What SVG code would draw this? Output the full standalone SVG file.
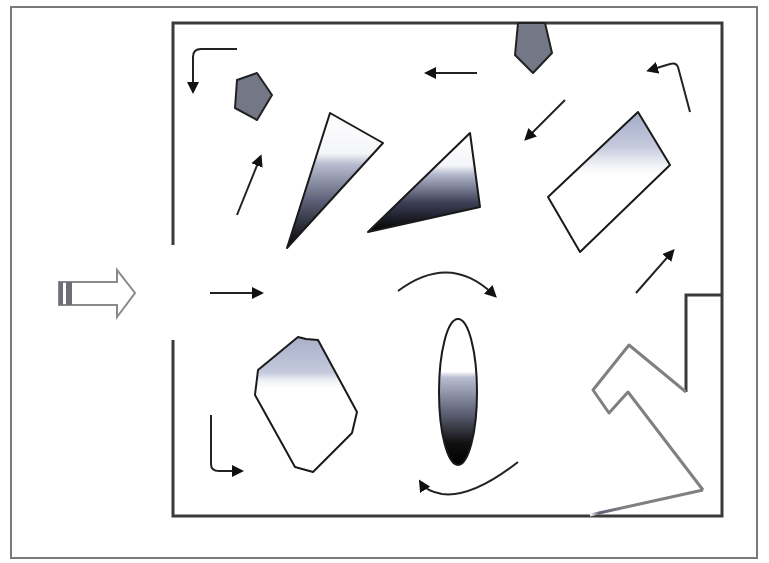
<svg xmlns="http://www.w3.org/2000/svg" width="769" height="563" viewBox="0 0 769 563">
<style>
.wall{fill:none;stroke:#3a3a3a;stroke-width:3}
.frame{fill:none;stroke:#7a7a7a;stroke-width:2}
.arr{fill:none;stroke:#222;stroke-width:2;marker-end:url(#ah)}
.shape{stroke:#1a1a1a;stroke-width:2;stroke-linejoin:round}
.pent{fill:#747786;stroke:#222;stroke-width:2;stroke-linejoin:round}
.zig{fill:none;stroke:#808080;stroke-width:3;stroke-linejoin:round}
</style>
<defs>
<marker id="ah" markerWidth="6" markerHeight="6" refX="4" refY="3" orient="auto" markerUnits="strokeWidth">
<path d="M0,0 L6,3 L0,6 z" fill="#111"/>
</marker>
<linearGradient id="g1" gradientUnits="userSpaceOnUse" x1="0" y1="113" x2="0" y2="248">
<stop offset="0" stop-color="#fff"/><stop offset="0.3" stop-color="#f4f5f8"/><stop offset="0.38" stop-color="#b7bccf"/><stop offset="0.65" stop-color="#5d6078"/><stop offset="1" stop-color="#000"/>
</linearGradient>
<linearGradient id="g2" gradientUnits="userSpaceOnUse" x1="0" y1="133" x2="0" y2="232">
<stop offset="0" stop-color="#fff"/><stop offset="0.33" stop-color="#f4f5f8"/><stop offset="0.42" stop-color="#b4b8cc"/><stop offset="0.7" stop-color="#3e4058"/><stop offset="1" stop-color="#000"/>
</linearGradient>
<linearGradient id="g3" gradientUnits="userSpaceOnUse" x1="0" y1="112" x2="0" y2="252">
<stop offset="0" stop-color="#a4abc8"/><stop offset="0.25" stop-color="#c5cadc"/><stop offset="0.38" stop-color="#f2f3f8"/><stop offset="0.45" stop-color="#fff"/><stop offset="1" stop-color="#fff"/>
</linearGradient>
<linearGradient id="g4" gradientUnits="userSpaceOnUse" x1="0" y1="337" x2="0" y2="472">
<stop offset="0" stop-color="#a9b0cb"/><stop offset="0.26" stop-color="#c3c8db"/><stop offset="0.32" stop-color="#eef0f6"/><stop offset="0.38" stop-color="#fff"/><stop offset="1" stop-color="#fff"/>
</linearGradient>
<linearGradient id="g5" gradientUnits="userSpaceOnUse" x1="0" y1="319" x2="0" y2="465">
<stop offset="0" stop-color="#fff"/><stop offset="0.36" stop-color="#fff"/><stop offset="0.4" stop-color="#b9bdd0"/><stop offset="0.65" stop-color="#5c5f74"/><stop offset="0.85" stop-color="#111"/><stop offset="1" stop-color="#000"/>
</linearGradient>
<linearGradient id="g6" gradientUnits="userSpaceOnUse" x1="590" y1="0" x2="703" y2="0">
<stop offset="0" stop-color="#fff"/><stop offset="0.08" stop-color="#5e6176"/><stop offset="0.3" stop-color="#808080"/><stop offset="1" stop-color="#808080"/>
</linearGradient>
</defs>
<rect x="0" y="0" width="769" height="563" fill="#fff"/>
<g id="frame"><rect class="frame" x="11" y="7" width="746" height="551"/></g>
<g id="room">
<path class="wall" d="M173,245 L173,23 L722,23 L722,516 L173,516 L173,340"/>
<path class="wall" d="M722,295 L686,295 L686,392" stroke="#666"/>
</g>
<g id="entry">
<path d="M59,282 L117,282 L117,270 L135,293 L117,317 L117,305 L59,305 z" fill="#fff" stroke="#8a8a8a" stroke-width="2"/>
<rect x="59" y="282" width="4" height="23" fill="#6e6e7a"/>
<rect x="66" y="282" width="6" height="23" fill="#6e6e7a"/>
</g>
<g id="pentagon-left"><polygon class="pent" points="237,80 257,73 272,95 257,120 235,108"/></g>
<g id="pentagon-top"><polygon class="pent" points="518,23 545,23 552,53 533,73 515,55"/></g>
<g id="triangle-1"><polygon class="shape" fill="url(#g1)" points="330,113 383,143 287,248"/></g>
<g id="triangle-2"><polygon class="shape" fill="url(#g2)" points="470,133 480,207 368,232"/></g>
<g id="rectangle"><polygon class="shape" fill="url(#g3)" points="638,112 670,165 580,252 548,197"/></g>
<g id="octagon"><polygon class="shape" fill="url(#g4)" points="298,337 306,339 318,340 357,412 352,433 313,472 295,467 255,395 258,370"/></g>
<g id="ellipse"><ellipse class="shape" fill="url(#g5)" cx="458" cy="392" rx="19" ry="73"/></g>
<g id="zigzag">
<path class="zig" d="M686,392 L629,345 L593,390 L609,413 L628,392 L703,490"/>
<path d="M703,490 L590,515" fill="none" stroke="url(#g6)" stroke-width="3"/>
</g>
<g id="connectors">
<path class="arr" d="M237,49 L201,49 Q193,49 193,57 L193,90"/>
<path class="arr" d="M237,215 L260,158"/>
<path class="arr" d="M477,73 L428,73"/>
<path class="arr" d="M565,100 L527,138"/>
<path class="arr" d="M690,112 L678,67 Q676,62 670,64 L650,70"/>
<path class="arr" d="M636,293 L672,252"/>
<path class="arr" d="M210,293 L260,293" stroke-width="2.5"/>
<path class="arr" d="M398,291 Q450,252 494,295"/>
<path class="arr" d="M518,462 Q472,498 442,494 Q426,491 421,483"/>
<path class="arr" d="M211,415 L211,464 Q211,471 219,471 L240,471"/>
</g>
</svg>
